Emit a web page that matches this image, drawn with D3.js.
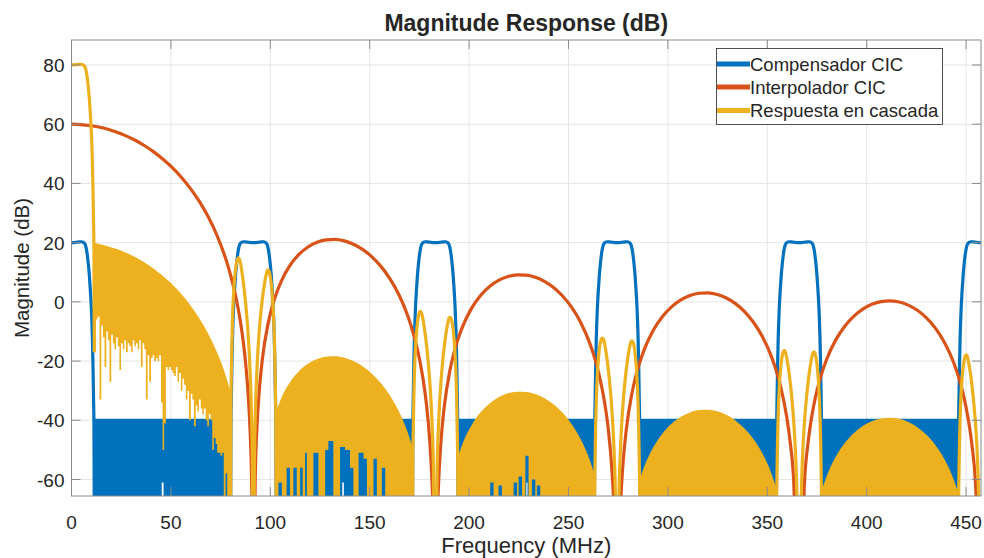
<!DOCTYPE html>
<html><head><meta charset="utf-8">
<script src="https://cdn.jsdelivr.net/npm/d3@7"></script>
<style>
body{margin:0;background:#fff}
svg{display:block}
text{font-family:"Liberation Sans",Arial,Helvetica,sans-serif;fill:#262626}
</style>
</head><body>
<svg id="chart" width="984" height="558"></svg>
<script>
// ---------------- DATA ----------------
const titleText = "Magnitude Response (dB)";
const xLabelText = "Frequency (MHz)";
const yLabelText = "Magnitude (dB)";
const seriesNames = ["Compensador CIC", "Interpolador CIC", "Respuesta en cascada"];
const seriesColors = ["#0072BD", "#D95319", "#EDB120"];
const xTicks = [0, 50, 100, 150, 200, 250, 300, 350, 400, 450];
const yTicks = [-60, -40, -20, 0, 20, 40, 60, 80];
const xDomain = [0, 457.5];
const yDomain = [-65.57, 88.44];

// Interpolador CIC [MHz, dB]
const interpolator = [[0,60],[4.58,59.89],[9.15,59.57],[13.73,59.04],[18.3,58.28],[22.88,57.29],[27.45,56.06],[32.03,54.57],[36.6,52.81],[41.18,50.74],[45.75,48.34],[50.33,45.56],[54.9,42.33],[59.48,38.57],[64.05,34.16],[68.63,28.88],[73.2,22.41],[77.78,14.14],[80.52,7.79],[82.35,2.66],[85.1,-7.25],[86.93,-16.44],[87.84,-22.49],[88.76,-30.21],[89.67,-41.0],[90.59,-59.3],[91.04,-77.5],[91.5,-120],[92.42,-59.8],[93.33,-42.0],[94.25,-31.7],[96.08,-18.97],[98.82,-7.59],[100.65,-2.39],[102.48,1.72],[105.23,6.52],[109.8,12.2],[114.38,16.0],[118.95,18.54],[123.53,20.13],[128.1,20.94],[132.68,21.07],[137.25,20.58],[141.83,19.47],[146.4,17.72],[150.98,15.29],[155.55,12.07],[160.13,7.88],[164.7,2.41],[169.28,-4.95],[172.02,-10.79],[173.85,-15.59],[176.6,-25.03],[178.43,-33.92],[180.26,-47.39],[181.17,-58.05],[182.09,-76.2],[183,-120],[183.92,-76.4],[184.83,-58.5],[185.75,-48.1],[187.58,-35.05],[190.32,-23.29],[192.15,-17.84],[193.98,-13.49],[196.73,-8.34],[201.3,-2.11],[205.88,2.22],[210.45,5.25],[215.03,7.31],[219.6,8.57],[224.18,9.12],[228.75,9.03],[233.33,8.31],[237.9,6.93],[242.48,4.85],[247.05,1.97],[251.63,-1.89],[256.2,-7.05],[260.78,-14.12],[263.52,-19.78],[265.35,-24.47],[268.1,-33.73],[269.93,-42.5],[271.76,-55.9],[272.67,-66.5],[274.5,-120],[276.33,-66.7],[277.25,-56.2],[279.08,-43.1],[281.82,-31.2],[283.65,-25.66],[285.48,-21.26],[288.23,-15.9],[292.8,-9.44],[297.38,-4.88],[301.95,-1.62],[306.53,0.66],[311.1,2.13],[315.68,2.9],[320.25,3.01],[324.83,2.48],[329.4,1.3],[333.98,-0.59],[338.55,-3.29],[343.13,-6.97],[347.7,-11.95],[352.28,-18.84],[355.02,-24.39],[356.85,-29.01],[359.6,-38.18],[361.43,-46.9],[363.26,-60.2],[366,-120],[368.75,-60.4],[370.58,-47.2],[373.32,-35.15],[375.15,-29.55],[376.98,-25.04],[379.73,-19.64],[384.3,-13.01],[388.88,-8.3],[393.45,-4.89],[398.03,-2.46],[402.6,-0.84],[407.18,0.07],[411.75,0.32],[416.33,-0.06],[420.9,-1.1],[425.48,-2.85],[430.05,-5.41],[434.63,-8.95],[439.2,-13.79],[443.78,-20.55],[446.52,-26.02],[448.35,-30.59],[451.1,-39.67],[452.93,-48.3],[454.76,-61.6],[457.5,-120]];

// Compensador CIC: passband lobes [MHz, dB]
const compPass0 = [[0,20.0],[1,20.0],[2,20.1],[3,20.15],[4,20.25],[5,20.3],[6,20.1],[6.5,19.8],[7,19.2],[7.5,17.8],[8,15.6],[8.5,12.6],[9,8.8],[9.5,3.8],[10,-2.5],[10.5,-12],[10.8,-21],[11.1,-33],[11.3,-43],[11.45,-70]];
const compPass1 = [[80.05,-70],[80.2,-43],[80.4,-33],[80.7,-21],[81,-12],[81.5,-2.5],[82,3.8],[82.5,8.8],[83,12.6],[83.5,15.6],[84,17.8],[84.5,19.2],[85,19.8],[85.5,20.1],[86.5,20.3],[87.5,20.25],[88.5,20.15],[89.5,20.1],[90.5,20.0],[91.5,20.0],[92.5,20.0],[93.5,20.1],[94.5,20.15],[95.5,20.25],[96.5,20.3],[97.5,20.1],[98,19.8],[98.5,19.2],[99,17.8],[99.5,15.6],[100,12.6],[100.5,8.8],[101,3.8],[101.5,-2.5],[102,-12],[102.3,-21],[102.6,-33],[102.8,-43],[102.95,-70]];
const compPass2 = [[171.55,-70],[171.7,-43],[171.9,-33],[172.2,-21],[172.5,-12],[173,-2.5],[173.5,3.8],[174,8.8],[174.5,12.6],[175,15.6],[175.5,17.8],[176,19.2],[176.5,19.8],[177,20.1],[178,20.3],[179,20.25],[180,20.15],[181,20.1],[182,20.0],[183,20.0],[184,20.0],[185,20.1],[186,20.15],[187,20.25],[188,20.3],[189,20.1],[189.5,19.8],[190,19.2],[190.5,17.8],[191,15.6],[191.5,12.6],[192,8.8],[192.5,3.8],[193,-2.5],[193.5,-12],[193.8,-21],[194.1,-33],[194.3,-43],[194.45,-70]];
const compPass3 = [[263.05,-70],[263.2,-43],[263.4,-33],[263.7,-21],[264,-12],[264.5,-2.5],[265,3.8],[265.5,8.8],[266,12.6],[266.5,15.6],[267,17.8],[267.5,19.2],[268,19.8],[268.5,20.1],[269.5,20.3],[270.5,20.25],[271.5,20.15],[272.5,20.1],[273.5,20.0],[274.5,20.0],[275.5,20.0],[276.5,20.1],[277.5,20.15],[278.5,20.25],[279.5,20.3],[280.5,20.1],[281,19.8],[281.5,19.2],[282,17.8],[282.5,15.6],[283,12.6],[283.5,8.8],[284,3.8],[284.5,-2.5],[285,-12],[285.3,-21],[285.6,-33],[285.8,-43],[285.95,-70]];
const compPass4 = [[354.55,-70],[354.7,-43],[354.9,-33],[355.2,-21],[355.5,-12],[356,-2.5],[356.5,3.8],[357,8.8],[357.5,12.6],[358,15.6],[358.5,17.8],[359,19.2],[359.5,19.8],[360,20.1],[361,20.3],[362,20.25],[363,20.15],[364,20.1],[365,20.0],[366,20.0],[367,20.0],[368,20.1],[369,20.15],[370,20.25],[371,20.3],[372,20.1],[372.5,19.8],[373,19.2],[373.5,17.8],[374,15.6],[374.5,12.6],[375,8.8],[375.5,3.8],[376,-2.5],[376.5,-12],[376.8,-21],[377.1,-33],[377.3,-43],[377.45,-70]];
const compPass5 = [[446.05,-70],[446.2,-43],[446.4,-33],[446.7,-21],[447,-12],[447.5,-2.5],[448,3.8],[448.5,8.8],[449,12.6],[449.5,15.6],[450,17.8],[450.5,19.2],[451,19.8],[451.5,20.1],[452.5,20.3],[453.5,20.25],[454.5,20.15],[455.5,20.1],[456.5,20.0],[457.5,20.0]];
// Compensador CIC stopbands: top level (dB), and floor steps [start MHz, floor dB]; each band ends at its end value
const compStopTop = -40;
const compStopEnds = [80.05, 171.55, 263.05, 354.55, 446.05];
const compStopFloor0 = [[11.45,-70],[45.4,-61],[46.3,-70]];
const compStopFloor1 = [[102.95,-70],[136.2,-61],[137.0,-70]];
const compStopFloor2 = [[194.45,-70],[228.8,-61],[229.4,-70]];
const compStopFloor3 = [[285.95,-70]];
const compStopFloor4 = [[377.45,-70]];

// Respuesta en cascada: passband lobes [MHz, dB]
const cascPass0 = [[0,80.0],[2,80.1],[4,80.2],[5,80.2],[6,79.9],[6.5,79.6],[7,78.95],[7.5,77.5],[8,75.3],[8.5,72.2],[9,68.4],[9.5,63.3],[10,57.0],[10.5,47.4],[10.8,38.4],[11.1,26.3],[11.3,16.3],[11.45,-17]];
const cascPass1 = [[80.05,-75],[80.2,-34.4],[80.4,-24.9],[80.7,-13.7],[81,-5.5],[81.5,2.7],[82,7.5],[82.5,11.0],[83,13.2],[83.5,14.5],[84,14.9],[84.5,14.4],[85,13.0],[85.5,11.1],[86.5,6.3],[87.5,0.2],[88.5,-7.7],[89.5,-18.6],[90,-26.2],[90.5,-37.0],[91,-55.2],[91.5,-110],[92,-55.5],[92.5,-37.5],[93,-27.1],[93.5,-19.7],[94.5,-9.3],[95.5,-2.0],[96.5,3.5],[97.5,7.8],[98,9.4],[98.5,10.6],[99,10.8],[99.5,10.1],[100,8.5],[100.5,6.0],[101,2.3],[101.5,-2.9],[102,-11.3],[102.3,-19.7],[102.6,-31.0],[102.8,-40.7],[102.95,-75]];
const cascPass2 = [[171.55,-80],[171.7,-53.0],[171.9,-43.5],[172.2,-32.2],[172.5,-24.0],[173,-15.8],[173.5,-10.8],[174,-7.2],[174.5,-4.9],[175,-3.6],[175.5,-3.2],[176,-3.7],[176.5,-4.9],[177,-6.7],[178,-11.3],[179,-17.2],[180,-24.9],[181,-35.6],[181.5,-43.2],[182,-53.9],[183,-110],[184,-54.1],[184.5,-43.6],[185,-36.1],[186,-25.6],[187,-18.2],[188,-12.5],[189,-8.1],[189.5,-6.5],[190,-5.4],[190.5,-5.2],[191,-5.7],[191.5,-7.1],[192,-9.4],[192.5,-13.1],[193,-18.2],[193.5,-26.6],[193.8,-34.9],[194.1,-46.2],[194.3,-55.8],[194.45,-80]];
const cascPass3 = [[263.05,-80],[263.2,-62.0],[263.4,-52.5],[263.7,-41.2],[264,-32.9],[264.5,-24.7],[265,-19.7],[265.5,-16.1],[266,-13.9],[266.5,-12.6],[267,-12.2],[267.5,-12.5],[268,-13.6],[268.5,-15.3],[269.5,-19.9],[270.5,-25.8],[271.5,-33.4],[272.5,-44.1],[273,-51.5],[273.5,-62],[274.5,-110],[275.5,-62],[276,-51.9],[276.5,-44.3],[277.5,-33.8],[278.5,-26.3],[279.5,-20.5],[280.5,-16.1],[281,-14.5],[281.5,-13.4],[282,-13.2],[282.5,-13.7],[283,-15.0],[283.5,-17.3],[284,-20.9],[284.5,-26.0],[285,-34.3],[285.3,-42.6],[285.6,-53.9],[285.8,-63.5],[285.95,-80]];
const cascPass4 = [[354.55,-80],[354.7,-66.7],[354.9,-57.1],[355.2,-45.8],[355.5,-37.5],[356,-29.3],[356.5,-24.3],[357,-20.6],[357.5,-18.3],[358,-16.9],[358.5,-16.4],[359,-16.8],[359.5,-18.0],[360,-19.8],[361,-24.3],[362,-30.1],[363,-37.7],[364,-48.4],[364.5,-56],[365,-68],[366,-110],[367,-68],[367.5,-56],[368,-48.5],[369,-37.9],[370,-30.4],[371,-24.6],[372,-20.1],[372.5,-18.4],[373,-17.2],[373.5,-16.9],[374,-17.4],[374.5,-18.8],[375,-21.2],[375.5,-24.8],[376,-29.8],[376.5,-38.1],[376.8,-46.4],[377.1,-57.8],[377.3,-67.3],[377.45,-80]];
const cascPass5 = [[446.05,-80],[446.2,-68.3],[446.4,-58.8],[446.7,-47.4],[447,-39.1],[447.5,-30.9],[448,-25.8],[448.5,-22.2],[449,-19.9],[449.5,-18.4],[450,-17.9],[450.5,-18.2],[451,-19.5],[451.5,-21.3],[452.5,-25.7],[453.5,-31.6],[454.5,-39.1],[455.5,-49.7],[456.5,-70],[457.5,-110]];

// Respuesta en cascada: stopband envelopes (upper edge of the dense ripple) [MHz, dB]
const cascStopEnv0 = [[11.45,19.3],[13.73,19.04],[18.3,18.28],[22.88,17.29],[27.45,16.06],[32.03,14.57],[36.6,12.81],[41.18,10.74],[45.75,8.34],[50.33,5.56],[54.9,2.33],[59.48,-1.43],[64.05,-5.84],[68.63,-11.12],[73.2,-17.59],[77.78,-25.86],[80.05,-31.2]];
const cascStopEnv1 = [[102.95,-37.5],[105.23,-33.48],[109.8,-27.8],[114.38,-24.0],[118.95,-21.46],[123.53,-19.87],[128.1,-19.06],[132.68,-18.93],[137.25,-19.42],[141.83,-20.53],[146.4,-22.28],[150.98,-24.71],[155.55,-27.93],[160.13,-32.12],[164.7,-37.59],[169.28,-44.95],[171.55,-49.8]];
const cascStopEnv2 = [[194.45,-52.7],[196.73,-48.34],[201.3,-42.11],[205.88,-37.78],[210.45,-34.75],[215.03,-32.69],[219.6,-31.43],[224.18,-30.88],[228.75,-30.97],[233.33,-31.69],[237.9,-33.07],[242.48,-35.15],[247.05,-38.03],[251.63,-41.89],[256.2,-47.05],[260.78,-54.12],[263.05,-58.9]];
const cascStopEnv3 = [[285.95,-60.3],[288.23,-55.9],[292.8,-49.44],[297.38,-44.88],[301.95,-41.62],[306.53,-39.34],[311.1,-37.87],[315.68,-37.1],[320.25,-36.99],[324.83,-37.52],[329.4,-38.7],[333.98,-40.59],[338.55,-43.29],[343.13,-46.97],[347.7,-51.95],[352.28,-58.84],[354.55,-63.5]];
const cascStopEnv4 = [[377.45,-64.2],[379.73,-59.64],[384.3,-53.01],[388.88,-48.3],[393.45,-44.89],[398.03,-42.46],[402.6,-40.84],[407.18,-39.93],[411.75,-39.68],[416.33,-40.06],[420.9,-41.1],[425.48,-42.85],[430.05,-45.41],[434.63,-48.95],[439.2,-53.79],[443.78,-60.55],[446.05,-65.1]];
// Respuesta en cascada: lowest level reached by the ripple, as steps [start MHz, floor dB]
const cascStopFloor0 = [[11.45,-17],[12.3,-6],[13.1,-5],[14.1,-33],[15.0,-8],[15.8,-12],[16.6,-22],[17.5,-10],[18.3,-13],[19.1,-27],[20.0,-11],[20.8,-14],[21.6,-16],[22.4,-12],[23.3,-15],[24.1,-23],[24.9,-14],[25.8,-16],[26.6,-13],[27.4,-17],[28.3,-14],[29.1,-15],[30.0,-17],[30.8,-13],[31.6,-15],[32.4,-14],[33.3,-16],[34.1,-13],[34.9,-22],[35.8,-14],[36.6,-16],[37.4,-33],[38.3,-18],[39.1,-27],[40.0,-19],[40.8,-18],[41.6,-20],[42.5,-19],[43.3,-20],[44.1,-18],[45.0,-34],[45.8,-50],[46.6,-41],[47.5,-22],[48.3,-23],[49.1,-22],[50.0,-23],[50.8,-24],[51.6,-25],[52.5,-22],[53.3,-27],[54.1,-24],[55.0,-30],[55.8,-26],[56.6,-28],[57.5,-33],[58.3,-30],[59.1,-40],[60.0,-31],[60.8,-33],[61.6,-42],[62.5,-35],[63.3,-37],[64.1,-33],[65.0,-36],[65.8,-38],[66.6,-36],[67.5,-40],[68.3,-42],[69.1,-38],[70.0,-40],[70.8,-50],[71.6,-46],[72.5,-48],[73.3,-51],[74.1,-51],[75.0,-52],[75.8,-51],[76.6,-70],[77.5,-58],[78.3,-70]];
const cascStopFloor1 = [[102.95,-70],[104.1,-61],[105.8,-70],[108.2,-56],[109.9,-70],[111.6,-56],[113.3,-70],[115.0,-56],[116.3,-70],[117.5,-51],[118.4,-70],[121.7,-51],[124.2,-70],[127.6,-50],[129.2,-47],[131.7,-70],[135.1,-49],[137.6,-50],[140.1,-56],[141.8,-70],[144.4,-51],[146.9,-53],[148.6,-70],[151.9,-53],[153.6,-70],[156.1,-56],[157.8,-70]];
const cascStopFloor2 = [[194.45,-70],[210.6,-61],[212.3,-70],[214.8,-62],[216.5,-70],[222.4,-61],[224.1,-70],[224.9,-59],[226.6,-70],[228.3,-52],[229.9,-70],[231.6,-60],[233.3,-70],[234.1,-62],[235.8,-70]];
const cascStopFloor3 = [[285.95,-70]];
const cascStopFloor4 = [[377.45,-70]];

// ---------------- DRAWING ----------------
const L = 71.5, R = 981, T = 40, B = 496;
const svg = d3.select("#chart");
const x = d3.scaleLinear().domain(xDomain).range([L, R]);
const y = d3.scaleLinear().domain(yDomain).range([B, T]);
const defs = svg.append("defs");
defs.append("clipPath").attr("id", "plotClip").append("rect")
  .attr("x", L).attr("y", T).attr("width", R - L).attr("height", B - T);

svg.append("rect").attr("x", L).attr("y", T).attr("width", R - L).attr("height", B - T).attr("fill", "#fff");

// grid
const grid = svg.append("g").attr("stroke", "#e5e5e5").attr("stroke-width", 1);
xTicks.forEach(t => grid.append("line").attr("x1", x(t)).attr("x2", x(t)).attr("y1", T).attr("y2", B));
yTicks.forEach(t => grid.append("line").attr("x1", L).attr("x2", R).attr("y1", y(t)).attr("y2", y(t)));

const plot = svg.append("g").attr("clip-path", "url(#plotClip)");
const LW = 3.2;
const line = d3.line().x(d => x(d[0])).y(d => y(d[1])).curve(d3.curveMonotoneX);
const yc = v => Math.min(B + 3, y(v));

// single step-shaped area between a top level and a floor step list
function stepArea(g, steps, endF, topPx, color) {
  const pts = steps.concat([[endF, steps[steps.length - 1][1]]]);
  const a = d3.area().x(d => x(d[0])).y0(d => yc(d[1])).y1(topPx).curve(d3.curveStepAfter);
  g.append("path").attr("d", a(pts)).attr("fill", color);
}

// 1) Compensador CIC (blue)
const blueG = plot.append("g");
const compFloors = [compStopFloor0, compStopFloor1, compStopFloor2, compStopFloor3, compStopFloor4];
compFloors.forEach((fl, i) => stepArea(blueG, fl, compStopEnds[i], y(compStopTop) - LW / 2, seriesColors[0]));
[compPass0, compPass1, compPass2, compPass3, compPass4, compPass5].forEach(p =>
  blueG.append("path").attr("d", line(p)).attr("fill", "none").attr("stroke", seriesColors[0]).attr("stroke-width", LW).attr("stroke-linejoin", "round"));

// 2) Interpolador CIC (red)
plot.append("path").attr("d", line(interpolator)).attr("fill", "none")
  .attr("stroke", seriesColors[1]).attr("stroke-width", LW).attr("stroke-linejoin", "round");

// 3) Respuesta en cascada (yellow)
const yelG = plot.append("g");
const envs = [cascStopEnv0, cascStopEnv1, cascStopEnv2, cascStopEnv3, cascStopEnv4];
const cFloors = [cascStopFloor0, cascStopFloor1, cascStopFloor2, cascStopFloor3, cascStopFloor4];
const envArea = d3.area().x(d => x(d[0])).y0(B + 5).y1(d => y(d[1]) - LW / 2).curve(d3.curveMonotoneX);
envs.forEach((env, i) => {
  const id = "envClip" + i;
  defs.append("clipPath").attr("id", id).append("path").attr("d", envArea(env));
  const g = yelG.append("g").attr("clip-path", `url(#${id})`);
  stepArea(g, cFloors[i], env[env.length - 1][0], T, seriesColors[2]);
});
[cascPass0, cascPass1, cascPass2, cascPass3, cascPass4, cascPass5].forEach(p =>
  yelG.append("path").attr("d", line(p)).attr("fill", "none").attr("stroke", seriesColors[2]).attr("stroke-width", LW).attr("stroke-linejoin", "round"));

// axes box and ticks
const ax = svg.append("g").attr("stroke", "#8a8a8a").attr("stroke-width", 1).attr("fill", "none");
ax.append("rect").attr("x", L).attr("y", T).attr("width", R - L).attr("height", B - T);
const TK = 9;
xTicks.forEach(t => {
  ax.append("line").attr("x1", x(t)).attr("x2", x(t)).attr("y1", B).attr("y2", B - TK);
  ax.append("line").attr("x1", x(t)).attr("x2", x(t)).attr("y1", T).attr("y2", T + TK);
});
yTicks.forEach(t => {
  ax.append("line").attr("x1", L).attr("x2", L + TK).attr("y1", y(t)).attr("y2", y(t));
  ax.append("line").attr("x1", R).attr("x2", R - TK).attr("y1", y(t)).attr("y2", y(t));
});

// tick labels
svg.append("g").selectAll("text").data(xTicks).join("text")
  .attr("x", d => x(d)).attr("y", 529).attr("text-anchor", "middle")
  .attr("font-size", 19).text(d => d);
svg.append("g").selectAll("text").data(yTicks).join("text")
  .attr("x", L - 7).attr("y", d => y(d) + 7).attr("text-anchor", "end")
  .attr("font-size", 19).text(d => d);

// labels
svg.append("text").attr("x", (L + R) / 2).attr("y", 553).attr("text-anchor", "middle")
  .attr("font-size", 22).text(xLabelText);
svg.append("text").attr("transform", `translate(29,${(T + B) / 2}) rotate(-90)`).attr("text-anchor", "middle")
  .attr("font-size", 20.5).text(yLabelText);
svg.append("text").attr("x", (L + R) / 2).attr("y", 31).attr("text-anchor", "middle")
  .attr("font-size", 23).attr("font-weight", "bold").attr("fill", "#000").text(titleText);

// legend
const lg = svg.append("g");
lg.append("rect").attr("x", 716.5).attr("y", 48.5).attr("width", 226).attr("height", 76)
  .attr("fill", "#fff").attr("stroke", "#262626").attr("stroke-width", 0.8);
const legY = [64, 87, 110.5];
seriesNames.forEach((n, i) => {
  lg.append("line").attr("x1", 717).attr("x2", 750).attr("y1", legY[i]).attr("y2", legY[i])
    .attr("stroke", seriesColors[i]).attr("stroke-width", 5);
  lg.append("text").attr("x", 750).attr("y", legY[i] + 6.5).attr("font-size", 18.5).attr("fill", "#000").text(n);
});
</script>
</body></html>
